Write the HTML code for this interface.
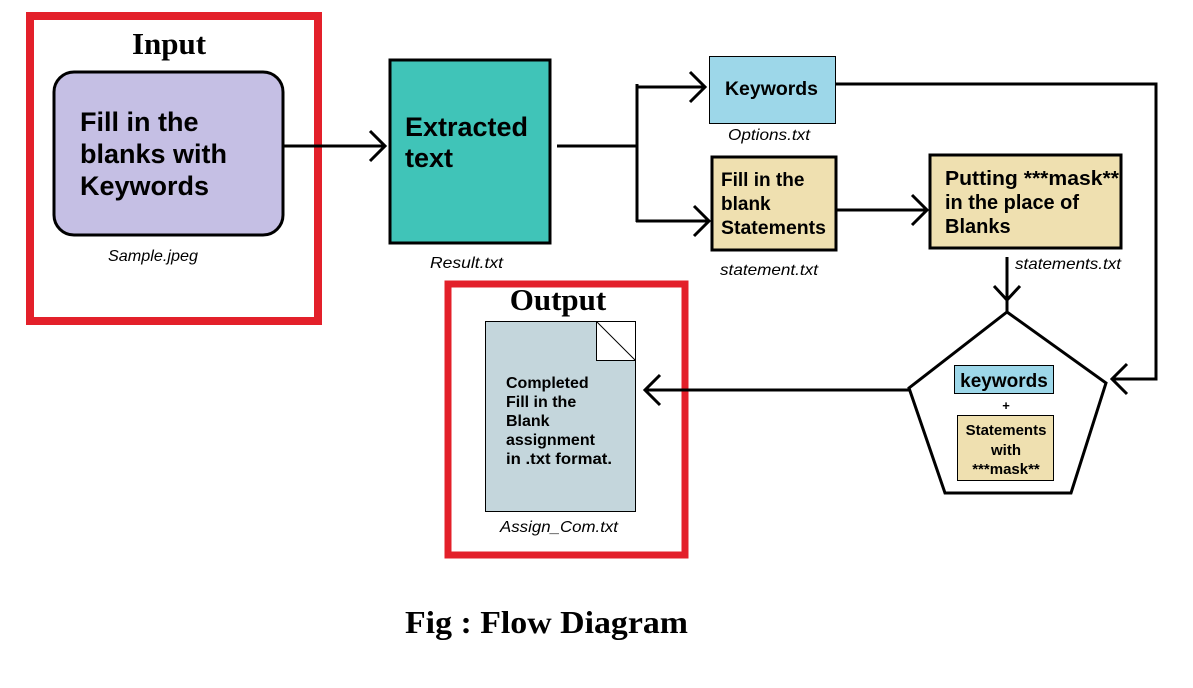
<!DOCTYPE html>
<html><head><meta charset="utf-8"><style>
html,body{margin:0;padding:0;background:#fff;}
svg{display:block;}
.b{font-family:"Liberation Sans",sans-serif;font-weight:bold;fill:#000;}
.i{font-family:"Liberation Sans",sans-serif;font-style:italic;fill:#000;font-size:16px;}
.s{font-family:"Liberation Serif",serif;font-weight:bold;fill:#000;}
</style></head><body>
<svg width="1193" height="688" viewBox="0 0 1193 688" xmlns="http://www.w3.org/2000/svg">
<g fill="none" stroke="#000" stroke-width="3">
<rect x="30" y="16" width="288" height="305" stroke="#e3202a" stroke-width="8"/>
<rect x="448" y="284" width="237" height="271" stroke="#e3202a" stroke-width="7"/>
<line x1="284" y1="146" x2="385" y2="146"/>
<polyline points="370,131 385,146 370,161"/>
<line x1="557" y1="146" x2="637" y2="146"/>
<polyline points="637,84 637,222"/>
<line x1="636" y1="87" x2="705" y2="87"/>
<polyline points="690,72 705,87 690,102"/>
<line x1="636" y1="221" x2="707" y2="221"/>
<polyline points="694,206 709,221 694,236"/>
<line x1="836" y1="210" x2="925" y2="210"/>
<polyline points="912,195 927,210 912,225"/>
<polyline points="835,84 1156,84 1156,379 1112,379"/>
<polyline points="1127,364 1112,379 1127,394"/>
<line x1="1007" y1="257" x2="1007" y2="312"/>
<polyline points="994,286 1007,300 1020,286"/>
<line x1="909" y1="390" x2="645" y2="390"/>
<polyline points="660,375 645,390 660,405"/>
</g>
<rect x="54" y="72" width="229" height="163" rx="20" fill="#c5bfe4" stroke="#000" stroke-width="3"/>
<text class="s" x="169" y="54" font-size="31" text-anchor="middle">Input</text>
<text class="b" font-size="27"><tspan x="80" y="131">Fill in the</tspan><tspan x="80" y="163">blanks with</tspan><tspan x="80" y="195">Keywords</tspan></text>
<text class="i" x="108" y="261" textLength="90" lengthAdjust="spacingAndGlyphs">Sample.jpeg</text>
<rect x="390" y="60" width="160" height="183" fill="#40c4b8" stroke="#000" stroke-width="3"/>
<text class="b" font-size="27"><tspan x="405" y="136" textLength="123" lengthAdjust="spacingAndGlyphs">Extracted</tspan><tspan x="405" y="167">text</tspan></text>
<text class="i" x="430" y="268" textLength="73" lengthAdjust="spacingAndGlyphs">Result.txt</text>
<rect x="709.5" y="56.5" width="126" height="67" fill="#9dd7e9" stroke="#000" stroke-width="1"/>
<text class="b" x="725" y="95" font-size="19" textLength="93" lengthAdjust="spacingAndGlyphs">Keywords</text>
<text class="i" x="728" y="140" textLength="82" lengthAdjust="spacingAndGlyphs">Options.txt</text>
<rect x="712" y="157" width="124" height="93" fill="#efe0b0" stroke="#000" stroke-width="3"/>
<text class="b" font-size="19"><tspan x="721" y="186">Fill in the</tspan><tspan x="721" y="210">blank</tspan><tspan x="721" y="234" textLength="105" lengthAdjust="spacingAndGlyphs">Statements</tspan></text>
<text class="i" x="720" y="275" textLength="98" lengthAdjust="spacingAndGlyphs">statement.txt</text>
<rect x="930" y="155" width="191" height="93" fill="#efe0b0" stroke="#000" stroke-width="3"/>
<text class="b" font-size="20"><tspan x="945" y="185" textLength="174" lengthAdjust="spacingAndGlyphs">Putting ***mask**</tspan><tspan x="945" y="209" textLength="134" lengthAdjust="spacingAndGlyphs">in the place of</tspan><tspan x="945" y="233">Blanks</tspan></text>
<text class="i" x="1015" y="269" textLength="106" lengthAdjust="spacingAndGlyphs">statements.txt</text>
<polygon points="1007,312 1106,383 1071,493 945,493 909,388" fill="#fff" stroke="#000" stroke-width="3"/>
<rect x="954.5" y="365.5" width="99" height="28" fill="#9dd7e9" stroke="#000" stroke-width="1"/>
<text class="b" x="1004" y="387" font-size="19" text-anchor="middle">keywords</text>
<text class="b" x="1006" y="410" font-size="13" text-anchor="middle">+</text>
<rect x="957.5" y="415.5" width="96" height="65" fill="#efe0b0" stroke="#000" stroke-width="1"/>
<text class="b" font-size="15" text-anchor="middle"><tspan x="1006" y="435">Statements</tspan><tspan x="1006" y="455">with</tspan><tspan x="1006" y="474">***mask**</tspan></text>
<text class="s" x="558" y="310" font-size="31" text-anchor="middle">Output</text>
<polygon points="485.5,321.5 635.5,321.5 635.5,511.5 485.5,511.5" fill="#c4d6dc" stroke="#000" stroke-width="1"/>
<rect x="596.5" y="321.5" width="39" height="39" fill="#fff" stroke="#000" stroke-width="1"/>
<line x1="596.5" y1="321.5" x2="635.5" y2="360.5" stroke="#000" stroke-width="1"/>
<text class="b" font-size="16"><tspan x="506" y="388">Completed</tspan><tspan x="506" y="407">Fill in the</tspan><tspan x="506" y="426">Blank</tspan><tspan x="506" y="445">assignment</tspan><tspan x="506" y="464" textLength="106" lengthAdjust="spacingAndGlyphs">in .txt format.</tspan></text>
<text class="i" x="500" y="532" textLength="118" lengthAdjust="spacingAndGlyphs">Assign_Com.txt</text>
<text class="s" x="405" y="633" font-size="32" textLength="283" lengthAdjust="spacingAndGlyphs">Fig : Flow Diagram</text>
</svg>
</body></html>
